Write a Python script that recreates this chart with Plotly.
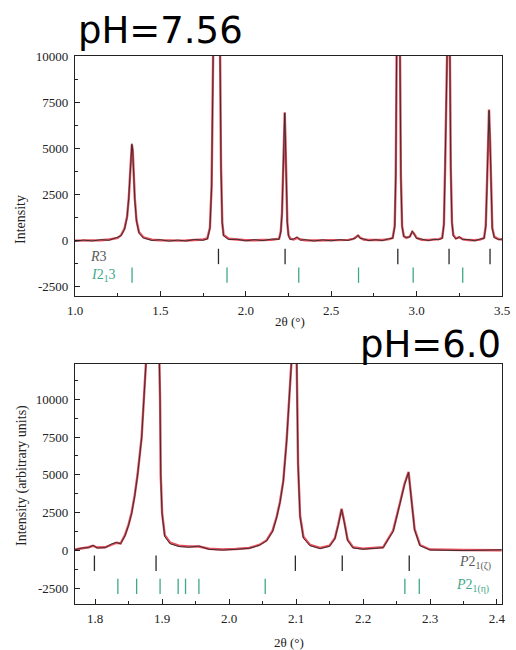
import plotly.graph_objects as go

# ---------------- data: top panel (pH = 7.56) ----------------
two_theta_top = [1.00, 1.05, 1.10, 1.15, 1.20, 1.25, 1.27, 1.29, 1.305, 1.315,       # 10
                 1.322, 1.328, 1.333, 1.338, 1.343, 1.35, 1.36, 1.375, 1.40, 1.45,   # 20
                 1.50, 1.55, 1.60, 1.65, 1.70, 1.75, 1.775, 1.79, 1.80, 1.808,       # 30
                 1.815, 1.845, 1.849, 1.855, 1.862, 1.87, 1.90, 1.95, 2.00, 2.05,    # 40
                 2.10, 2.15, 2.195, 2.205, 2.212, 2.218, 2.224, 2.228, 2.232, 2.237, # 50
                 2.243, 2.25, 2.26, 2.28, 2.30, 2.32, 2.35, 2.40, 2.45, 2.50,        # 60
                 2.55, 2.60, 2.63, 2.645, 2.657, 2.67, 2.69, 2.72, 2.76, 2.80,       # 70
                 2.84, 2.86, 2.872, 2.878, 2.883, 2.888, 2.898, 2.903, 2.908, 2.915, # 80
                 2.925, 2.94, 2.96, 2.975, 2.985, 3.00, 3.03, 3.07, 3.10, 3.13,      # 90
                 3.15, 3.16, 3.167, 3.172, 3.177, 3.188, 3.195, 3.20, 3.207, 3.215,  # 100
                 3.23, 3.25, 3.27, 3.30, 3.34, 3.37, 3.395, 3.405, 3.412, 3.418,     # 110
                 3.424, 3.43, 3.436, 3.443, 3.455, 3.48, 3.50]                       # 117
calc_top = [0, 0, 10, 20, 60, 150, 300, 650, 1300, 2300,
            3500, 4700, 5200, 4900, 3800, 2300, 1100, 450, 180, 50,
            20, 0, 0, 10, 30, 60, 120, 700, 3000, 10000,
            15000, 15000, 10000, 4000, 1000, 300, 100, 40, 20, 20,
            30, 50, 100, 500, 1500, 3500, 6000, 6950, 5500, 3000,
            1000, 300, 100, 60, 150, 60, 20, 10, 10, 10,
            20, 40, 90, 180, 270, 150, 60, 30, 20, 30,
            80, 150, 800, 3500, 10000, 15000, 15000, 10000, 3500, 800,
            250, 150, 220, 480, 380, 150, 50, 30, 40, 80,
            150, 900, 4000, 10000, 15000, 15000, 10000, 4000, 1000, 300,
            120, 180, 80, 30, 20, 50, 150, 800, 3000, 5500,
            7100, 5500, 2500, 700, 200, 80, 60]
obs_top = [-40, 30, -20, 50, 20, 180, 260, 620, 1250, 2350,
           3450, 4750, 5250, 4850, 3750, 2250, 1050, 400, 140, 10,
           50, -30, 30, -20, 60, 20, 90, 650, 2950, 10000,
           15000, 15000, 10000, 3900, 950, 260, 60, 70, -10, 50,
           0, 80, 70, 460, 1450, 3450, 5950, 6900, 5450, 2950,
           950, 260, 60, 90, 200, 30, 50, -20, 40, -10,
           50, 10, 120, 150, 300, 120, 90, 0, 50, 0,
           110, 120, 760, 3450, 10000, 15000, 15000, 10000, 3450, 760,
           210, 180, 190, 520, 340, 110, 80, 0, 70, 50,
           120, 860, 3950, 10000, 15000, 15000, 10000, 3950, 950, 260,
           90, 210, 50, 60, -10, 80, 110, 760, 2950, 5450,
           7050, 5450, 2450, 650, 160, 50, 90]

# reflection tick positions, top panel
refl_R3 = [1.84, 2.23, 2.89, 3.19, 3.43]
refl_I213 = [1.334, 1.89, 2.31, 2.66, 2.98, 3.27]

# ---------------- data: bottom panel (pH = 6.0) ----------------
two_theta_bot = [1.770, 1.780, 1.790, 1.797, 1.803, 1.815, 1.825, 1.832, 1.838, 1.8446,  # 10
                 1.850, 1.8546, 1.859, 1.8634, 1.8695, 1.8735, 1.877, 1.882, 1.890, 1.896, # 20
                 1.897, 1.898, 1.900, 1.904, 1.912, 1.925, 1.940, 1.955, 1.970, 1.990,     # 30
                 2.010, 2.030, 2.045, 2.056, 2.065, 2.071, 2.076, 2.081, 2.086, 2.091,     # 40
                 2.095, 2.098, 2.101, 2.103, 2.106, 2.111, 2.121, 2.136, 2.150, 2.158,     # 50
                 2.163, 2.168, 2.172, 2.177, 2.185, 2.200, 2.230, 2.245, 2.255, 2.262,     # 60
                 2.268, 2.272, 2.277, 2.285, 2.300, 2.350, 2.407]                          # 67
calc_bot = [50, 120, 200, 300, 180, 200, 400, 500, 450, 1000,
            1700, 2500, 3600, 5000, 7500, 10000, 12400, 17000, 17000, 12400,
            10000, 5000, 2500, 1000, 500, 300, 250, 250, 100, 50,
            80, 150, 350, 650, 1300, 2200, 3200, 4600, 7300, 10800,
            13500, 16000, 12500, 5800, 2300, 900, 350, 150, 300, 800,
            1700, 2750, 1900, 700, 200, 100, 200, 1300, 3100, 4400,
            5200, 3300, 1400, 350, 50, 20, 0]
obs_bot = [20, 150, 170, 330, 150, 170, 430, 520, 420, 950,
           1650, 2450, 3550, 4950, 7450, 10000, 12400, 17000, 17000, 12400,
           10000, 5000, 2400, 900, 430, 250, 200, 280, 60, 10,
           60, 130, 320, 620, 1250, 2150, 3150, 4550, 7250, 10700,
           13500, 16000, 12500, 5700, 2200, 800, 300, 110, 260, 760,
           1650, 2700, 1850, 650, 150, 70, 170, 1250, 3050, 4350,
           5150, 3250, 1350, 300, 20, -20, 30]

refl_P21a = [1.799, 1.891, 2.099, 2.169, 2.269]
refl_P21b = [1.834, 1.862, 1.897, 1.924, 1.935, 1.955, 2.054, 2.2625, 2.284]

# tick labels
ytick_vals_top = [-2500, 0, 2500, 5000, 7500, 10000]
ytick_text_top = ["-2500", "0", "2500", "5000", "7500", "10000"]
ytick_vals_bot = [-2500, 0, 2500, 5000, 7500, 10000]
ytick_text_bot = ["-2500", "0", "2500", "5000", "7500", "10000"]
xtick_vals_top = [1.0, 1.5, 2.0, 2.5, 3.0, 3.5]
xtick_text_top = ["1.0", "1.5", "2.0", "2.5", "3.0", "3.5"]
xtick_vals_bot = [1.8, 1.9, 2.0, 2.1, 2.2, 2.3, 2.4]
xtick_text_bot = ["1.8", "1.9", "2.0", "2.1", "2.2", "2.3", "2.4"]

RED = "#e5505e"
BLK = "#2a2a2a"
GRN = "#3fa88a"
GRY = "#5a5a5a"
TXT = "#222222"
SERIF = "Liberation Serif, Times New Roman, Times, serif"

W, H = 516, 650
def px(x): return x / W
def py(y): return 1 - y / H

fig = go.Figure()

def add_panel(xs, calc, obs, ra, rb, ya, yb, xa, yax):
    fig.add_trace(go.Scatter(x=xs, y=calc, mode="lines", line=dict(color=RED, width=2.4),
                             xaxis=xa, yaxis=yax, showlegend=False, hoverinfo="skip"))
    fig.add_trace(go.Scatter(x=xs, y=obs, mode="lines", line=dict(color=BLK, width=0.9),
                             xaxis=xa, yaxis=yax, showlegend=False, hoverinfo="skip"))
    fig.add_trace(go.Scatter(x=ra, y=[ya] * len(ra), mode="markers",
                             marker=dict(symbol="line-ns", size=11, line=dict(color=BLK, width=1.3)),
                             xaxis=xa, yaxis=yax, showlegend=False, hoverinfo="skip"))
    fig.add_trace(go.Scatter(x=rb, y=[yb] * len(rb), mode="markers",
                             marker=dict(symbol="line-ns", size=11, line=dict(color=GRN, width=1.3)),
                             xaxis=xa, yaxis=yax, showlegend=False, hoverinfo="skip"))

add_panel(two_theta_top, calc_top, obs_top, refl_R3, refl_I213, -857, -1870, "x", "y")
add_panel(two_theta_bot, calc_bot, obs_bot, refl_P21a, refl_P21b, -860, -2390, "x2", "y2")

axis_common = dict(showline=True, linecolor="#222", linewidth=1.3, mirror=True,
                   ticks="inside", ticklen=5, tickwidth=1.2, tickcolor="#222",
                   showgrid=False, zeroline=False,
                   tickfont=dict(family=SERIF, size=13, color=TXT))

fig.update_layout(
    width=W, height=H, margin=dict(l=0, r=0, t=0, b=0, autoexpand=False),
    paper_bgcolor="white", plot_bgcolor="white",
    font=dict(family=SERIF, color=TXT),
    xaxis=dict(domain=[px(75), px(502)], range=[1.0, 3.5], anchor="y",
               tickvals=xtick_vals_top, ticktext=xtick_text_top,
               minor=dict(dtick=0.25, ticks="inside", ticklen=3, tickcolor="#222"),
               ticklabelstandoff=2, **axis_common),
    yaxis=dict(domain=[py(296), py(56)], range=[-3000, 10000], anchor="x",
               tickvals=ytick_vals_top, ticktext=ytick_text_top,
               minor=dict(dtick=1250, ticks="inside", ticklen=3, tickcolor="#222"),
               ticklabelstandoff=3, **axis_common),
    xaxis2=dict(domain=[px(75), px(502)], range=[1.77, 2.4075], anchor="y2",
                tickvals=xtick_vals_bot, ticktext=xtick_text_bot,
                minor=dict(dtick=0.05, ticks="inside", ticklen=3, tickcolor="#222"),
                ticklabelstandoff=2, **axis_common),
    yaxis2=dict(domain=[py(604), py(364)], range=[-3560, 12340], anchor="x2",
                tickvals=ytick_vals_bot, ticktext=ytick_text_bot,
                minor=dict(dtick=1250, ticks="inside", ticklen=3, tickcolor="#222"),
                ticklabelstandoff=3, **axis_common),
)

ann = [
    dict(text="pH=7.56", x=px(76), y=py(30), xref="paper", yref="paper", xanchor="left",
         yanchor="middle", showarrow=False, font=dict(family="DejaVu Sans", size=37, color="black")),
    dict(text="pH=6.0", x=px(358), y=py(344), xref="paper", yref="paper", xanchor="left",
         yanchor="middle", showarrow=False, font=dict(family="DejaVu Sans", size=37, color="black")),
    dict(text="2θ (°)", x=px(290), y=py(322), xref="paper", yref="paper", showarrow=False,
         xanchor="center", yanchor="middle", font=dict(family=SERIF, size=13, color=TXT)),
    dict(text="2θ (°)", x=px(289), y=py(642), xref="paper", yref="paper", showarrow=False,
         xanchor="center", yanchor="middle", font=dict(family=SERIF, size=13, color=TXT)),
    dict(text="Intensity", x=px(20), y=py(220), xref="paper", yref="paper", showarrow=False,
         xanchor="center", yanchor="middle", textangle=-90,
         font=dict(family=SERIF, size=14, color=TXT)),
    dict(text="Intensity (arbitrary units)", x=px(22), y=py(476), xref="paper", yref="paper",
         xanchor="center", yanchor="middle", showarrow=False, textangle=-90,
         font=dict(family=SERIF, size=14, color=TXT)),
    dict(text="<i>R</i>3", x=1.135, y=-857, xref="x", yref="y", showarrow=False,
         font=dict(family=SERIF, size=14, color=GRY)),
    dict(text="<i>I</i>2<sub>1</sub>3", x=1.164, y=-1870, xref="x", yref="y", showarrow=False,
         font=dict(family=SERIF, size=14, color=GRN)),
    dict(text="<i>P</i>2<sub>1(ζ)</sub>", x=2.367, y=-860, xref="x2", yref="y2", showarrow=False,
         font=dict(family=SERIF, size=14, color=GRY)),
    dict(text="<i>P</i>2<sub>1(η)</sub>", x=2.364, y=-2390, xref="x2", yref="y2", showarrow=False,
         font=dict(family=SERIF, size=14, color=GRN)),
]
fig.update_layout(annotations=ann)

fig.write_html("out.html", config={"displayModeBar": False},
               post_script="document.body.style.margin='0';document.body.style.overflow='hidden';")
